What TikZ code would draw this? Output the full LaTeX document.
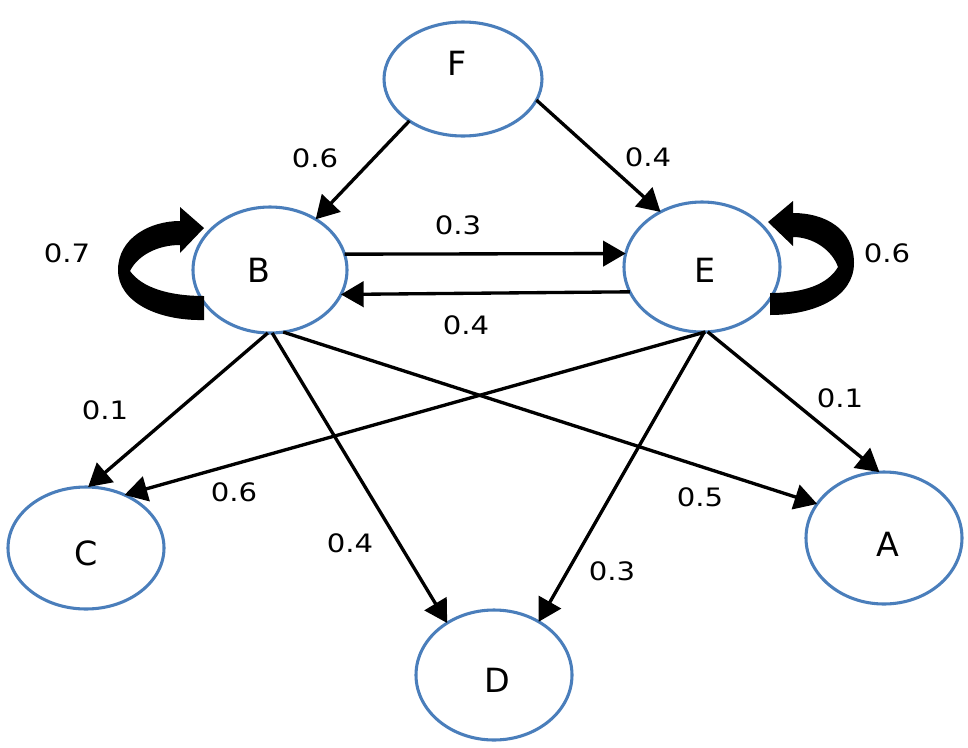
\documentclass[tikz,border=0pt]{standalone}
\usepackage{fontspec}
\setmainfont{DejaVu Sans}
\newfontfamily\labfont[FakeStretch=1.15]{DejaVu Sans}
\usetikzlibrary{arrows.meta,shapes.geometric}
\definecolor{nodeblue}{RGB}{74,126,187}
\begin{document}
\begin{tikzpicture}[x=0.75pt,y=-0.75pt,
  state/.style={ellipse, draw=nodeblue, line width=2.3pt, fill=white, inner sep=0pt, outer sep=0pt},
  edge/.style={line width=2.5pt, -{Triangle[length=17pt,width=19pt]}},
  lab/.style={font=\labfont\fontsize{19}{22}\selectfont, inner sep=0pt},
  letter/.style={font=\fontsize{25}{28}\selectfont, inner sep=0pt}]
\useasboundingbox (0,0) rectangle (968,747);
% states
\node[state, minimum width=118.5pt, minimum height=85.5pt,
  label={[letter, xshift=-4.5pt, yshift=11.6pt]center:F}] (F) at (463,79) {};
\node[state, minimum width=115.5pt, minimum height=94.5pt,
  label={[letter, xshift=-8.25pt]center:B}] (B) at (270,270) {};
\node[state, minimum width=117pt, minimum height=97.5pt,
  label={[letter, xshift=2.25pt, yshift=-2.25pt]center:E}] (E) at (702,267) {};
\node[state, minimum width=117pt, minimum height=91.5pt,
  label={[letter, yshift=-3.75pt]center:C}] (C) at (86,548) {};
\node[state, minimum width=117pt, minimum height=97.5pt,
  label={[letter, xshift=2.25pt, yshift=-3.75pt]center:D}] (D) at (494,675) {};
\node[state, minimum width=117pt, minimum height=99pt,
  label={[letter, xshift=3pt, yshift=-5pt]center:A}] (A) at (884,538) {};
% self loops
\fill (204,320) .. controls (158,321) and (118,302) .. (118,270)
  .. controls (118,238) and (150,221) .. (180,221) -- (180,207) -- (204,228)
  -- (180,253) -- (180,245) .. controls (158,245) and (138,255) .. (130,271)
  .. controls (142,288) and (170,296) .. (204,296) -- cycle;
\fill (770,315) .. controls (815,315) and (854,297) .. (854,263)
  .. controls (854,229) and (825,213) .. (793,213) -- (793,201) -- (768,222)
  -- (793,246) -- (793,237) .. controls (813,237) and (832,250) .. (838,267)
  .. controls (828,284) and (805,293) .. (770,293) -- cycle;
% edges
\draw[edge] (F.218) -- (B.48);
\draw[edge] (F.-16) -- (E.127);
\draw[edge] (B.12) -- (E.170);
\draw[edge] (E.199) -- (B.-19);
\draw[edge] (B.-92) -- (C.88);
\draw[edge] (B.-88) -- (D.132);
\draw[edge] (B.-78) -- (A.153);
\draw[edge] (E.-87) -- (C.54);
\draw[edge] (E.-88) -- (D.50);
\draw[edge] (E.-85) -- (A.94);
% labels
\node[lab] (l1) at (315,158) {0.6};
\node[lab] (l2) at (648,157) {0.4};
\node[lab] (l3) at (458,225) {0.3};
\node[lab] (l4) at (466,325) {0.4};
\node[lab] (l5) at (67,253) {0.7};
\node[lab] (l6) at (887,253) {0.6};
\node[lab] (l7) at (105,410) {0.1};
\node[lab] (l8) at (840,398) {0.1};
\node[lab] (l9) at (234,492) {0.6};
\node[lab] (l10) at (700,497) {0.5};
\node[lab] (l11) at (350,543) {0.4};
\node[lab] (l12) at (612,571) {0.3};
\end{tikzpicture}
\end{document}
